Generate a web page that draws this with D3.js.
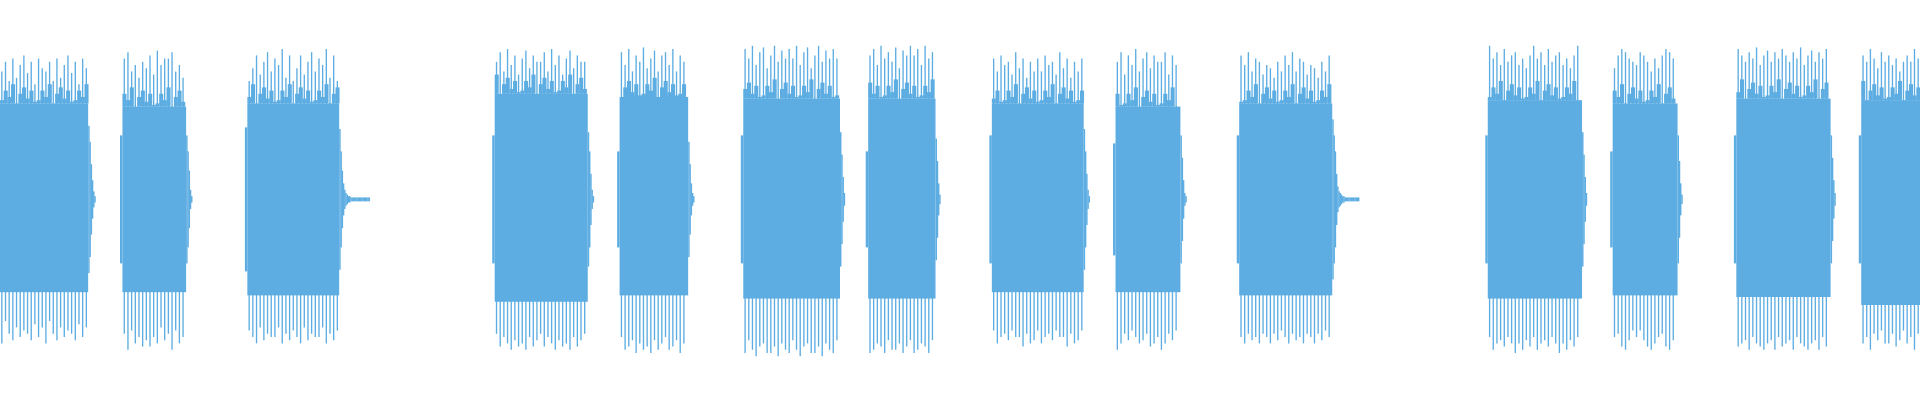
<!DOCTYPE html>
<html><head><meta charset="utf-8">
<script src="https://cdn.jsdelivr.net/npm/d3@7/dist/d3.min.js"></script>
<style>html,body{margin:0;padding:0;background:#fff}</style>
</head><body><svg id="c"></svg>
<script>
// Bursts of the waveform (time in seconds, amplitude normalised -1..1)
const burstStart = [0.00, 1.00, 2.02, 4.04, 5.06, 6.07, 7.09, 8.10, 9.11, 10.12, 12.15, 13.17, 14.18, 15.20];
const burstEnd   = [0.72, 1.52, 2.77, 4.80, 5.62, 6.86, 7.64, 8.85, 9.64, 10.88, 12.92, 13.70, 14.95, 15.68];
const coreTop    = [0.60, 0.58, 0.60, 0.66, 0.64, 0.63, 0.63, 0.60, 0.58, 0.60, 0.62, 0.60, 0.63, 0.62];
const coreBottom = [0.58, 0.58, 0.60, 0.64, 0.60, 0.62, 0.62, 0.58, 0.58, 0.60, 0.62, 0.60, 0.61, 0.66];
const spikeTop = [
  [0.80,0.86,0.74,0.88,0.76,0.84,0.90,0.79,0.86,0.72,0.88,0.82],
  [0.88,0.92,0.80,0.84,0.76,0.86,0.82,0.90,0.78,0.93,0.84,0.88],
  [0.74,0.82,0.90,0.78,0.86,0.92,0.80,0.88,0.84,0.94,0.76,0.90],
  [0.86,0.92,0.80,0.94,0.84,0.90,0.78,0.88,0.93,0.82,0.90,0.86],
  [0.92,0.84,0.94,0.80,0.90,0.86,0.95,0.82,0.88,0.93,0.80,0.90],
  [0.94,0.88,0.96,0.84,0.92,0.95,0.82,0.90,0.96,0.86,0.93,0.88],
  [0.90,0.94,0.84,0.96,0.88,0.92,0.86,0.95,0.82,0.93,0.90,0.96],
  [0.88,0.80,0.90,0.84,0.86,0.78,0.92,0.82,0.88,0.76,0.86,0.80],
  [0.86,0.92,0.78,0.90,0.84,0.94,0.80,0.88,0.92,0.82,0.90,0.86],
  [0.90,0.84,0.92,0.80,0.88,0.86,0.78,0.84,0.82,0.76,0.86,0.80],
  [0.96,0.88,0.92,0.84,0.94,0.86,0.90,0.92,0.84,0.88,0.82,0.90],
  [0.82,0.90,0.94,0.92,0.88,0.86,0.84,0.92,0.90,0.86,0.80,0.88],
  [0.94,0.90,0.86,0.92,0.88,0.95,0.84,0.90,0.93,0.86,0.92,0.88],
  [0.90,0.86,0.94,0.88,0.82,0.92,0.86,0.90,0.84,0.88,0.80,0.86]
];
const spikeBottom = [
  [0.84,0.88,0.78,0.86,0.80,0.90,0.76,0.84,0.88,0.80,0.86,0.82],
  [0.92,0.86,0.90,0.80,0.88,0.84,0.94,0.82,0.90,0.86,0.92,0.88],
  [0.86,0.80,0.90,0.84,0.88,0.82,0.86,0.90,0.80,0.88,0.84,0.86],
  [0.90,0.94,0.86,0.92,0.88,0.84,0.92,0.86,0.90,0.94,0.88,0.92],
  [0.92,0.96,0.88,0.94,0.90,0.86,0.94,0.92,0.88,0.96,0.90,0.94],
  [0.96,0.92,0.98,0.90,0.94,0.96,0.88,0.94,0.98,0.92,0.90,0.96],
  [0.94,0.90,0.96,0.92,0.88,0.96,0.94,0.90,0.92,0.96,0.88,0.94],
  [0.86,0.92,0.84,0.90,0.88,0.82,0.90,0.86,0.84,0.88,0.82,0.86],
  [0.88,0.84,0.92,0.90,0.86,0.94,0.90,0.84,0.88,0.82,0.86,0.90],
  [0.86,0.90,0.84,0.88,0.82,0.86,0.90,0.84,0.88,0.86,0.90,0.84],
  [0.96,0.90,0.94,0.88,0.92,0.86,0.94,0.90,0.88,0.92,0.86,0.90],
  [0.82,0.88,0.92,0.94,0.90,0.86,0.84,0.92,0.94,0.88,0.82,0.86],
  [0.94,0.90,0.88,0.94,0.86,0.92,0.90,0.88,0.94,0.86,0.90,0.92],
  [0.90,0.84,0.92,0.88,0.82,0.90,0.86,0.94,0.84,0.88,0.82,0.90]
];
// ragged upper edge of the dense core (level where individual cycles separate)
const edgeLevels = [0.64,0.70,0.66,0.74,0.62,0.68,0.72,0.65,0.70,0.63];
// decay tail amplitudes after each burst end
const tails = [
  [0.46,0.36,0.22,0.12,0.05,0.02],
  [0.40,0.30,0.18,0.06,0.02],
  [0.44,0.30,0.18,0.10,0.06,0.04,0.03,0.02,0.02,0.01,0.01,0.01,0.01,0.01,0.01,0.01,0.01,0.01,0.01,0.01,0.01,0.01,0.01,0.01,0.01],
  [0.42,0.30,0.16,0.06,0.02],
  [0.36,0.22,0.10,0.04,0.02],
  [0.42,0.28,0.14,0.04],
  [0.38,0.24,0.10,0.03],
  [0.44,0.30,0.16,0.06,0.02],
  [0.40,0.26,0.12,0.04,0.02],
  [0.50,0.40,0.30,0.16,0.08,0.05,0.04,0.03,0.02,0.02,0.01,0.01,0.01,0.01,0.01,0.01,0.01,0.01,0.01,0.01,0.01,0.01],
  [0.42,0.28,0.14,0.04],
  [0.40,0.24,0.10,0.03],
  [0.40,0.26,0.12,0.04],
  []
];
const startRamp = [0.30, 0.40, 0.45, 0.40, 0.30, 0.40, 0.30, 0.40, 0.35, 0.40, 0.40, 0.30, 0.40, 0.40];

const W = 1568, H = 325, color = "#5dade2";
const svg = d3.select("#c").attr("width",1920).attr("height",400)
  .attr("viewBox",`0 0 ${W} ${H}`).attr("preserveAspectRatio","none");
const x = d3.scaleLinear().domain([0,15.68]).range([0,W]);
const y = d3.scaleLinear().domain([-1,1]).range([162+130,162-130]);
const dt = 0.03, tailDt = 0.01;

burstStart.forEach((s,i)=>{
  const e = burstEnd[i];
  const g = svg.append("g");
  g.append("rect").attr("x",x(s)).attr("width",x(e)-x(s))
    .attr("y",y(coreTop[i])).attr("height",y(-coreBottom[i])-y(coreTop[i])).attr("fill",color);
  g.append("rect").attr("x",x(s-0.02)).attr("width",x(0.02)-x(0))
    .attr("y",y(startRamp[i])).attr("height",y(-startRamp[i])-y(startRamp[i])).attr("fill",color);
  const n = Math.floor((e-s)/dt);
  const idx = d3.range(n);
  // ragged edge fill
  g.selectAll("rect.et").data(idx).join("rect")
    .attr("x",k=>x(s+k*dt)).attr("width",x(dt)-x(0)+0.3)
    .attr("y",k=>y(Math.max(coreTop[i],edgeLevels[(k+i)%10]+coreTop[i]-0.62)))
    .attr("height",k=>y(coreTop[i])-y(Math.max(coreTop[i],edgeLevels[(k+i)%10]+coreTop[i]-0.62)))
    .attr("fill",color);
  g.selectAll("line.t").data(idx).join("line")
    .attr("x1",k=>x(s+0.015+k*dt)).attr("x2",k=>x(s+0.015+k*dt))
    .attr("y1",y(coreTop[i]-0.01)).attr("y2",k=>y(spikeTop[i][k%12]))
    .attr("stroke",color).attr("stroke-width",1.1);
  g.selectAll("line.b").data(idx).join("line")
    .attr("x1",k=>x(s+0.015+k*dt)).attr("x2",k=>x(s+0.015+k*dt))
    .attr("y1",y(-coreBottom[i]+0.01)).attr("y2",k=>y(-spikeBottom[i][(k+5)%12]))
    .attr("stroke",color).attr("stroke-width",1.1);
  g.selectAll("rect.tail").data(tails[i]).join("rect")
    .attr("x",(a,k)=>x(e+k*tailDt)).attr("width",x(tailDt)-x(0)+0.2)
    .attr("y",a=>y(Math.max(a,0.012))).attr("height",a=>y(-Math.max(a,0.012))-y(Math.max(a,0.012)))
    .attr("fill",color);
});
</script></body></html>
